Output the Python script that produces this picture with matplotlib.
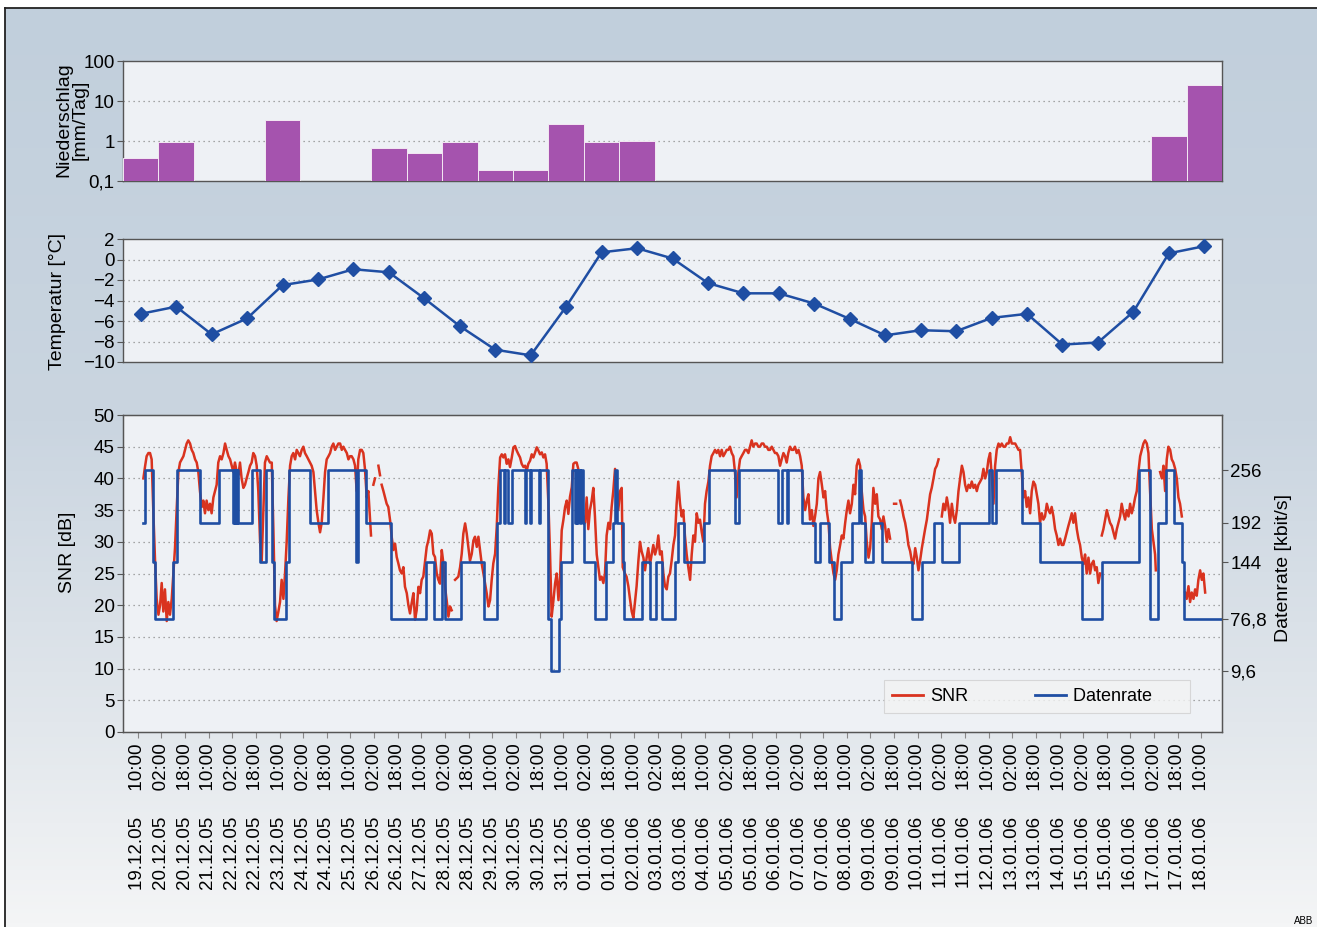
import numpy as np
import matplotlib
matplotlib.use("Agg")
import matplotlib.pyplot as plt
from matplotlib.lines import Line2D
from matplotlib.colors import LinearSegmentedColormap
from matplotlib.ticker import NullLocator

plt.rcParams['font.family'] = ['Liberation Sans', 'DejaVu Sans']

# ---------------- data ----------------
# daily precipitation (mm/Tag), days 19.12.05 ... 18.01.06 (0 = no bar)
precip_mm = [0.38, 0.96, 0, 0, 3.35, 0, 0, 0.68, 0.5, 0.95, 0.19, 0.19, 2.7, 0.95, 1.0,
             0, 0, 0, 0, 0, 0, 0, 0, 0, 0, 0, 0, 0, 0, 1.33, 25]

# daily temperature (deg C) at noon, same days
temperature_c = [-5.3, -4.6, -7.3, -5.75, -2.5, -1.95, -0.95, -1.25, -3.8, -6.5, -8.8, -9.35,
                 -4.6, 0.7, 1.1, 0.1, -2.3, -3.3, -3.3, -4.3, -5.8, -7.4, -6.9, -7.0,
                 -5.7, -5.3, -8.3, -8.1, -5.1, 0.6, 1.3]

tick_dates = [
    "19.12.05", "20.12.05", "20.12.05", "21.12.05", "22.12.05", "22.12.05", "23.12.05",
    "24.12.05", "24.12.05", "25.12.05", "26.12.05", "26.12.05", "27.12.05", "28.12.05",
    "28.12.05", "29.12.05", "30.12.05", "30.12.05", "31.12.05", "01.01.06", "01.01.06",
    "02.01.06", "03.01.06", "03.01.06", "04.01.06", "05.01.06", "05.01.06", "06.01.06",
    "07.01.06", "07.01.06", "08.01.06", "09.01.06", "09.01.06", "10.01.06", "11.01.06",
    "11.01.06", "12.01.06", "13.01.06", "13.01.06", "14.01.06", "15.01.06", "15.01.06",
    "16.01.06", "17.01.06", "17.01.06", "18.01.06"]
tick_times = ["10:00", "02:00", "18:00"] * 15 + ["10:00"]

nan = float('nan')
# SNR samples: (hours since 19.12.05 00:00, SNR in dB); nan = gap in recording
snr_samples = [
    (13.8, 40), (15.0, 42), (16.0, 43.5), (17.2, 44), (18.3, 44), (19.4, 43), (20.5, 35), (21.7, 27),
    (22.8, 21), (24.0, 18.5), (25.1, 20), (26.2, 23.5), (27.3, 19), (28.4, 22.5), (29.6, 17.5),
    (30.7, 20.5), (31.8, 18.5), (33.0, 21), (34.1, 25), (35.2, 29), (36.3, 35), (37.5, 41),
    (38.6, 42.5), (40.9, 43.5), (42.0, 44.5), (43.1, 45.5), (44.2, 46), (45.4, 45.5), (46.5, 44.5),
    (47.6, 44), (48.8, 43), (49.9, 42.5), (51.0, 41), (52.1, 38), (53.3, 35.5), (54.4, 36.5),
    (55.5, 34.5), (56.6, 36.5), (57.8, 35), (58.9, 36), (60.0, 34.5), (61.2, 37), (62.3, 38),
    (63.4, 39), (64.5, 42.5), (65.7, 43.5), (66.8, 43), (68.0, 44), (69.1, 45.5), (70.2, 44.5),
    (71.4, 43.5), (72.5, 43), (73.6, 42), (74.7, 41), (75.8, 42.5), (77.0, 41), (78.1, 40.5),
    (79.2, 42.5), (80.3, 40), (81.5, 38.5), (82.6, 39), (83.7, 40), (84.9, 41), (86.0, 42),
    (87.1, 42.5), (88.2, 44), (89.4, 43.5), (90.5, 42), (91.6, 38), (92.8, 30), (93.9, 27),
    (95.0, 35), (96.1, 42.5), (97.3, 43.5), (98.4, 43), (99.5, 42.5), (100.7, 42.5), (101.8, 32),
    (102.9, 20), (104.0, 17.5), (105.2, 19), (106.3, 20.5), (107.4, 24), (108.6, 21), (109.7, 25),
    (110.8, 30), (112.0, 37), (113.1, 42), (114.2, 43.5), (115.3, 44), (116.5, 43), (117.6, 44.5),
    (118.7, 44), (119.8, 43.5), (121.0, 44.5), (122.1, 45), (123.2, 44), (124.4, 43.5), (125.5, 43),
    (126.6, 42.5), (127.7, 42), (128.9, 41), (130.0, 38), (131.1, 35), (132.3, 33), (133.4, 31.5),
    (134.5, 33), (135.7, 37), (136.8, 41), (137.9, 43), (139.1, 43.5), (140.2, 44), (141.3, 45),
    (142.4, 45.5), (143.6, 44.5), (144.7, 45), (145.8, 45.5), (147.0, 45.5), (148.1, 44.5),
    (149.2, 45),
    (150.3, 44.5), (151.5, 44), (152.6, 43), (153.7, 43.5), (154.8, 43.5), (156.0, 43), (157.1, 42),
    (158.2, 38), (159.3, 43), (160.5, 44.5), (161.6, 44.5), (162.7, 44), (163.8, 41.5), (165.0, 37),
    (166.1, 38), (167.9, 31), (168.7, nan), (169.5, 39), (170.6, 40), (171.7, nan), (172.9, 42),
    (174.0, 40.5), (174.5, nan), (175.1, 39), (176.3, 38), (177.4, 37), (178.5, 36), (179.6, 35.5),
    (180.8, 33.4), (181.9, 30.8), (183.0, 28.7), (184.2, 29.7), (185.3, 27.6), (186.4, 26.6),
    (187.5, 25.5), (188.7, 25), (189.8, 26), (190.9, 22.9), (192.1, 21.9), (193.2, 20),
    (194.3, 18.7), (195.4, 20.3), (196.6, 21.9), (197.7, 17.7), (198.8, 19.2), (200.0, 22.9),
    (201.1, 21.9), (202.2, 24), (203.3, 24.5), (204.5, 27), (205.6, 29.2), (206.7, 30.2),
    (207.9, 31.8), (209.0, 31.3), (210.1, 28.1), (211.2, 27.6), (212.4, 25), (213.5, 24),
    (214.6, 23.4), (215.8, 28.7), (216.9, 26.6), (218.0, 22.9), (219.1, 20.8), (220.3, 18.2),
    (221.4, 19.8), (222.5, 19.2), (223.6, nan), (224.8, 24), (227.0, 24.5), (228.2, 26),
    (229.3, 28.1), (230.4, 31.3), (231.6, 32.9), (232.7, 31.3), (233.8, 29.2), (234.9, 27),
    (236.1, 28.1), (237.2, 30.2), (238.3, 30.8), (239.5, 29.2), (240.6, 30.8), (241.7, 28.7),
    (242.8, 26.6), (244.0, 25), (245.1, 23.4), (246.2, 21.9), (247.4, 19.8), (248.5, 20.8),
    (249.6, 24), (250.7, 26.6), (251.9, 28.1), (253.0, 32.3), (254.1, 38.6), (255.3, 43.3),
    (256.4, 43.8), (257.5, 43.3), (258.6, 43.8), (259.8, 42.3), (260.9, 43), (262.0, 41.8),
    (263.2, 43.3), (264.3, 44.9), (265.4, 45.1), (266.5, 44.4), (267.7, 43.8), (268.8, 43.3),
    (269.9, 42.3), (271.1, 41.8), (272.2, 42), (273.3, 41.2), (274.4, 42.3), (275.6, 42.8),
    (276.7, 43.8), (277.8, 43.3), (279.0, 44.1), (280.1, 44.9), (281.2, 44.4), (282.3, 43.8),
    (283.5, 44.1), (284.6, 43.3), (285.7, 43.8), (286.8, 42.3), (288.0, 36), (289.1, 28.1),
    (290.2, 18.2), (291.4, 20.8), (292.5, 23.4), (293.6, 25), (294.8, 20.8), (295.9, 24.5),
    (297.0, 31.8), (298.1, 33.4), (299.3, 35.5), (300.4, 36.5), (301.5, 34.4), (302.6, 37.1),
    (303.8, 38.6), (304.9, 42.3),
    (306.0, 42.5), (307.1, 42.5), (308.2, 41.5), (309.4, 38), (310.5, 36), (311.6, 33.5),
    (312.8, 33), (313.9, 37), (315.0, 32), (316.1, 35), (317.3, 36.5), (318.4, 38.5), (319.5, 34),
    (320.7, 28), (321.8, 26), (322.9, 24), (324.0, 24.5), (325.2, 23.5), (326.3, 25), (327.4, 31),
    (328.6, 33), (329.7, 32), (330.8, 35.5), (331.9, 38), (333.1, 41.5), (334.2, 39), (335.3, 35),
    (336.5, 38), (337.6, 38.5), (338.3, 26), (339.8, 25), (340.9, 24.5), (342.1, 23), (343.2, 21),
    (344.4, 19), (345.5, 18), (346.6, 20.5), (347.7, 23), (348.9, 27), (350.0, 30), (351.1, 28.5),
    (352.3, 27.5), (353.4, 25.5), (354.5, 27.5), (355.6, 29), (356.8, 26.5), (357.9, 28),
    (359.0, 29.5), (360.2, 28), (361.3, 29), (362.4, 31), (363.5, 28), (364.7, 28.5), (365.8, 25),
    (366.9, 23), (368.1, 22.5), (369.2, 24.5), (370.3, 25), (371.4, 27), (372.6, 29.5), (373.7, 31),
    (374.8, 36), (375.9, 39.5), (377.1, 36), (378.2, 34), (379.3, 35), (380.4, 31), (381.6, 28),
    (382.7, 26), (383.9, 24), (385.0, 28), (386.1, 31), (387.2, 30), (388.4, 34.5), (389.5, 33),
    (390.6, 33.5), (391.8, 31.5), (392.9, 30), (394.0, 36), (395.1, 38), (396.3, 39.5), (397.4, 42),
    (398.5, 43.5), (399.7, 44), (400.8, 44.5), (401.9, 44), (403.0, 44.5), (404.2, 43.5),
    (405.3, 44.5), (406.4, 43.5), (407.6, 44), (408.7, 44.5), (409.8, 44.5), (410.9, 45), (412.1, 44),
    (413.2, 43.5), (414.3, 41), (415.4, 37), (416.6, 41), (417.7, 43), (418.8, 43.5), (420.0, 44),
    (421.1, 44.5), (422.2, 44.5), (423.4, 44), (424.5, 45), (425.6, 46), (426.7, 45), (427.9, 45.5),
    (429.0, 45.5), (430.1, 45), (431.2, 45), (432.4, 45.5), (433.5, 45.5), (434.6, 45), (435.8, 45),
    (436.9, 44.5), (438.0, 44.5), (439.2, 45), (440.3, 44.5), (441.4, 44), (442.5, 44),
    (443.7, 43.5), (444.8, 42), (445.9, 43), (447.1, 44), (448.2, 43.5), (449.3, 42.5), (450.4, 44),
    (451.6, 45), (452.7, 44.5), (453.8, 44.5), (454.9, 45),
    (456.1, 44), (457.3, 44.5), (458.4, 43.5), (459.5, 42), (460.6, 37), (461.8, 35), (462.9, 36.5),
    (464.0, 37.5), (465.1, 33.5), (466.3, 35), (467.4, 32.5), (468.5, 34), (469.7, 36), (470.8, 40),
    (471.9, 41), (473.1, 39), (474.2, 37), (475.3, 38), (476.4, 35), (477.6, 33), (478.7, 29),
    (479.8, 27), (481.0, 25), (482.1, 24), (483.2, 25.5), (484.3, 28), (485.5, 29.5), (486.6, 31),
    (487.7, 30.5), (488.9, 33), (490.0, 35), (491.1, 36.5), (492.2, 34.5), (493.4, 36), (494.5, 39),
    (495.6, 37.5), (496.7, 42), (497.9, 43), (499.0, 42), (500.1, 38), (501.3, 35), (502.4, 34),
    (503.5, 30), (504.7, 27.5), (505.8, 29), (506.9, 33), (508.0, 38.5), (509.2, 36), (510.3, 37.5),
    (511.4, 34), (512.6, 33.5), (513.7, 32), (514.8, 34), (515.9, 32.5), (517.1, 30), (518.2, 32),
    (519.3, 30.5), (520.5, nan), (522.0, 36), (523.4, 36), (524.5, nan), (526.1, 36.5), (527.2, 35.5),
    (528.4, 34), (529.5, 33), (530.6, 31.5), (531.7, 29.5), (532.9, 28.5), (534.0, 27), (535.1, 26.5),
    (536.3, 29), (537.4, 27.5), (538.5, 25.5), (539.6, 27), (540.8, 29), (541.9, 30.5), (543.0, 32),
    (544.2, 33.5), (545.3, 35.5), (546.4, 37.5), (547.5, 38.5), (548.7, 40), (549.8, 41.5),
    (550.9, 42), (552.1, 43), (553.2, nan), (554.3, 34), (555.4, 36), (556.6, 35), (557.7, 37),
    (558.8, 35.5), (559.9, 33), (561.1, 36), (562.2, 34), (563.3, 33), (564.5, 35), (565.6, 38),
    (566.7, 40), (567.9, 42), (569.0, 41), (570.1, 39), (571.2, 38), (572.4, 39), (573.5, 38.5),
    (574.6, 39.5), (575.8, 38.5), (576.9, 39), (578.0, 38), (579.1, 39), (580.3, 39.5), (581.4, 40),
    (582.5, 41.5), (583.7, 40), (584.8, 41), (585.9, 43), (587.0, 44), (588.2, 40), (589.3, 36),
    (590.4, 42), (591.5, 44.5), (592.7, 45.5), (593.8, 45), (594.9, 45.5), (596.1, 45), (597.2, 45),
    (598.3, 45.5), (599.5, 45.5), (600.6, 46.5), (601.7, 45.5), (602.8, 45.5), (604.0, 45.5),
    (605.1, 45), (606.2, 44.5), (607.3, 44.5),
    (608.4, 41), (609.6, 37), (610.7, 38), (611.8, 35.5), (612.9, 37), (614.1, 34.5), (615.2, 38),
    (616.3, 39.5), (617.5, 39), (618.6, 37.5), (619.7, 36), (620.8, 33), (622.0, 34.5), (623.1, 33.5),
    (624.2, 34), (625.4, 36), (626.5, 35), (627.6, 34.5), (628.7, 35.5), (629.9, 34), (631.0, 32),
    (632.1, 31), (633.3, 29.5), (634.4, 30.5), (635.5, 29.5), (636.6, 29.5), (637.8, 30.5),
    (638.9, 31.5), (640.0, 32.5), (641.2, 33.5), (642.3, 34.5), (643.4, 33), (644.5, 34.5), (645.7, 32),
    (646.8, 30.5), (647.9, 29.5), (649.1, 27.5), (650.2, 26.5), (651.3, 28), (652.4, 25), (653.6, 27.5),
    (654.7, 25), (655.8, 26.5), (657.0, 27), (658.1, 25.5), (659.2, 26), (660.3, 23.5), (661.5, 25),
    (662.0, nan), (662.6, 31), (663.7, 32), (664.9, 33.5), (666.0, 35), (667.1, 34), (668.2, 33),
    (669.4, 32.5), (670.5, 31.5), (671.6, 30.5), (672.8, 32), (673.9, 33), (675.0, 34), (676.1, 36),
    (677.3, 34.5), (678.4, 33.5), (679.5, 35), (680.7, 34), (681.8, 36), (682.9, 34.5), (684.0, 35.5),
    (685.2, 37), (686.3, 38), (687.4, 41), (688.6, 43.5), (689.7, 44.5), (690.8, 45.5), (691.9, 46),
    (693.1, 45.5), (694.2, 44), (695.3, 38), (696.5, 32), (697.6, 30), (698.7, 28), (699.2, 25.5),
    (700.5, nan), (702.1, 41), (703.3, 40), (704.4, 42), (705.5, 38), (706.6, 43), (707.7, 45),
    (708.9, 44.5), (710.0, 43), (711.1, 42.5), (712.3, 41.5), (713.4, 40), (714.5, 37), (715.6, 36),
    (716.8, 34), (717.9, nan), (719.0, 22), (720.1, 21), (721.3, 23), (722.4, 20.5), (723.5, 22),
    (724.7, 21), (725.8, 22.5), (726.9, 21.5), (728.0, 24), (729.2, 25.5), (730.3, 24), (731.4, 25),
    (732.6, 22)]

# data rate (kbit/s): (hours since 19.12.05 00:00, new rate) - holds until next entry
rate_changes = [
    (13.8, 192), (14.9, 256), (20.0, 144), (21.5, 76.8), (34.1, 144), (36.5, 256), (51.8, 192),
    (64.9, 256), (74.7, 192), (75.3, 256), (75.9, 192), (76.4, 256), (77.0, 192), (77.5, 256),
    (78.1, 192), (87.4, 256), (92.8, 144), (96.5, 256), (100.7, 144), (102.0, 76.8), (110.6, 144),
    (112.5, 256), (126.8, 192), (138.6, 256), (157.7, 144), (158.9, 256), (164.4, 192),
    (181.5, 76.8), (205.4, 144), (210.5, 76.8), (216.0, 144), (218.3, 76.8), (229.0, 144),
    (244.3, 76.8), (253.5, 192), (255.5, 256), (258.0, 192), (258.5, 256), (260.4, 192),
    (263.2, 256), (272.0, 192), (272.5, 256), (275.4, 192), (275.9, 256), (281.7, 192),
    (282.2, 256), (287.8, 76.8), (290.0, 9.6), (295.3, 76.8), (296.7, 144), (304.2, 256),
    (306.0, 192), (306.6, 256), (307.6, 192), (308.2, 256), (309.2, 192), (309.8, 256),
    (311.6, 192), (312.1, 144), (319.8, 76.8), (327.2, 144), (331.7, 192), (333.0, 256),
    (334.2, 192), (338.2, 144), (339.5, 76.8), (351.5, 144), (356.5, 76.8), (361.0, 144),
    (365.0, 76.8), (374.0, 144), (375.6, 192), (379.6, 144), (393.5, 192), (397.0, 256),
    (414.5, 192), (416.8, 256), (443.7, 192), (445.9, 256), (449.3, 192), (450.4, 256),
    (460.0, 192), (468.8, 144), (471.6, 192), (478.0, 144), (481.3, 76.8), (485.8, 144),
    (493.7, 192), (498.2, 256), (499.5, 192), (502.2, 144), (507.7, 192), (513.9, 144),
    (534.2, 76.8), (541.1, 144), (549.0, 192), (554.6, 144), (566.0, 192), (586.3, 256),
    (588.0, 192), (591.3, 256), (608.8, 192), (620.8, 144), (649.4, 76.8), (663.0, 144),
    (687.5, 256), (695.5, 76.8), (701.0, 192), (706.4, 256), (711.5, 192), (717.0, 144),
    (718.3, 76.8), (744.0, 76.8)]

rate_tick_values = [256, 192, 144, 76.8, 9.6]
rate_tick_labels = ['256', '192', '144', '76,8', '9,6']
rate_on_snr_scale = [41.3, 33.0, 26.8, 17.8, 9.6]   # where each rate sits on the dB scale

# ---------------- styling ----------------
W, H = 1317, 927
RED = '#d9331f'
BLUE = '#1f4ea3'
PURPLE = '#a553ae'
FACE = '#eef1f5'
SPINE = '#555555'
GRID = dict(color='#8c8c8c', linestyle=(0, (1, 3)), linewidth=0.9)
FS = 13.5

fig = plt.figure(figsize=(W / 100, H / 100), dpi=100)
fig.patch.set_facecolor('white')

# background gradient
bg = fig.add_axes([5 / W, 0, 1 - 5 / W, 1 - 8 / H], zorder=-10)
cmap = LinearSegmentedColormap.from_list(
    'bg', [(0, '#c1cfdc'), (0.45, '#cad5e0'), (0.78, '#e2e7ec'), (1, '#f4f5f6')])
bg.imshow(np.linspace(0, 1, 256)[:, None], aspect='auto', cmap=cmap, vmin=0, vmax=1)
bg.axis('off')
fig.add_artist(Line2D([5 / W, 5 / W], [0, 1 - 8 / H], transform=fig.transFigure,
                      color='#222222', lw=1.3))
fig.add_artist(Line2D([5 / W, 1], [1 - 8 / H, 1 - 8 / H], transform=fig.transFigure,
                      color='#222222', lw=1.3))

L, Wd = 123 / W, 1099 / W
ax_p = fig.add_axes([L, (H - 181) / H, Wd, 120 / H])
ax_t = fig.add_axes([L, (H - 362) / H, Wd, 123 / H])
ax_s = fig.add_axes([L, (H - 732) / H, Wd, 317 / H])

for ax in (ax_p, ax_t, ax_s):
    ax.set_facecolor(FACE)
    ax.set_xlim(0, 744)
    for sp in ax.spines.values():
        sp.set_color(SPINE)
        sp.set_linewidth(1.0)
    ax.tick_params(axis='y', direction='out', length=4, width=0.8, color=SPINE,
                   labelsize=FS, pad=2)
for ax in (ax_p, ax_t):
    ax.tick_params(axis='x', bottom=False, labelbottom=False)

# precipitation
day_idx = np.arange(len(precip_mm))
day_center_h = 12 + 24 * day_idx
pm = np.array(precip_mm, dtype=float)
has = pm > 0
ax_p.set_yscale('log')
ax_p.set_ylim(0.1, 100)
ax_p.bar(day_center_h[has], pm[has] - 0.1, bottom=0.1, width=24, color=PURPLE,
         edgecolor='#f3e8f3', linewidth=0.7, zorder=3)
ax_p.set_yticks([0.1, 1, 10, 100])
ax_p.set_yticklabels(['0,1', '1', '10', '100'])
ax_p.yaxis.set_minor_locator(NullLocator())
for v in (1, 10):
    ax_p.axhline(v, zorder=1, **GRID)

# temperature
ax_t.set_ylim(-10, 2)
ax_t.set_yticks(np.arange(-10, 3, 2))
for v in (-8, -6, -4, -2, 0):
    ax_t.axhline(v, zorder=1, **GRID)
ax_t.plot(day_center_h, temperature_c, color=BLUE, lw=1.8, marker='D', markersize=7,
          markerfacecolor=BLUE, markeredgecolor=BLUE, zorder=3)

# SNR + data rate
ax_s.set_ylim(0, 50)
ax_s.set_yticks(np.arange(0, 51, 5))
for v in range(5, 50, 5):
    ax_s.axhline(v, zorder=1, **GRID)
snr_h = np.array([p[0] for p in snr_samples])
snr_db = np.array([p[1] for p in snr_samples], dtype=float)
ax_s.plot(snr_h, snr_db, color=RED, lw=1.8, zorder=3)

rate_map = dict(zip(rate_tick_values, rate_on_snr_scale))
rate_h = np.array([p[0] for p in rate_changes])
rate_pos = np.array([rate_map[p[1]] for p in rate_changes])
ax_s.plot(rate_h, rate_pos, drawstyle='steps-post', color=BLUE, lw=1.9, zorder=4)

tick_h = 10 + 16 * np.arange(len(tick_dates))
ax_s.set_xticks(tick_h)
ax_s.set_xticklabels([d + '     ' + t for d, t in zip(tick_dates, tick_times)],
                     rotation=90, fontsize=FS)
ax_s.tick_params(axis='x', direction='out', length=4, width=0.8, color='#888888', pad=4)

ax_r = ax_s.twinx()
ax_r.set_ylim(0, 50)
ax_r.set_yticks(rate_on_snr_scale)
ax_r.set_yticklabels(rate_tick_labels)
ax_r.tick_params(axis='y', direction='out', length=4, width=0.8, color=SPINE,
                 labelsize=FS, pad=2)
for sp in ax_r.spines.values():
    sp.set_color(SPINE)

handles = [Line2D([], [], color=RED, lw=2.0), Line2D([], [], color=BLUE, lw=2.0)]
leg = ax_s.legend(handles, ['SNR', 'Datenrate      '], ncol=2, loc='lower left',
                  bbox_to_anchor=((884 - 123) / 1099, 0.06), fontsize=13, frameon=True,
                  fancybox=False, borderpad=0.45, handlelength=1.7, handletextpad=0.4,
                  columnspacing=3.7, borderaxespad=0)
leg.get_frame().set_facecolor('#f3f3f3')
leg.get_frame().set_edgecolor('#d0d0d0')
leg.get_frame().set_linewidth(0.8)
leg.set_zorder(10)

# axis titles
def ylab(x, y, s, **kw):
    fig.text(x / W, 1 - y / H, s, rotation=90, ha='center', va='center', fontsize=14, **kw)

ylab(72, 120, 'Niederschlag\n[mm/Tag]', linespacing=0.9)
ylab(58, 301, 'Temperatur [°C]')
ylab(68, 552, 'SNR [dB]')
ylab(1283, 568, 'Datenrate [kbit/s]')
fig.text(1294 / W, 1 - 921 / H, 'ABB', fontsize=7, ha='left', va='center')

fig.savefig('out.png', dpi=100)
